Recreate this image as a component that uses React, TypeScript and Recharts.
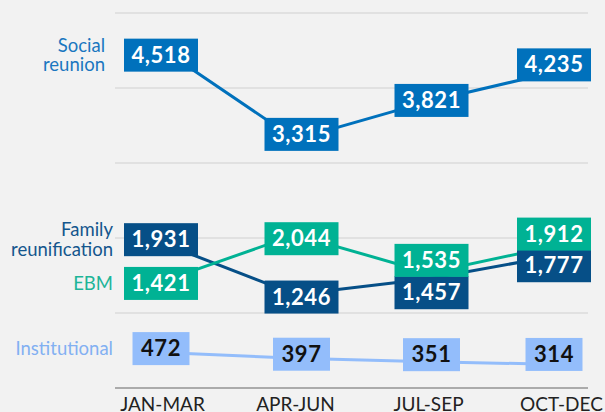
import { LineChart, Line, XAxis, YAxis, CartesianGrid } from 'recharts'

const quarters = ['JAN-MAR', 'APR-JUN', 'JUL-SEP', 'OCT-DEC']
const socialReunion = [4518, 3315, 3821, 4235]
const familyReunification = [1931, 1246, 1457, 1777]
const ebm = [1421, 2044, 1535, 1912]
const institutional = [472, 397, 351, 314]
const yTicks = [0, 1000, 2000, 3000, 4000, 5000]

const rows = quarters.map((quarter, i) => ({
  quarter,
  social: socialReunion[i],
  family: familyReunification[i],
  ebm: ebm[i],
  institutional: institutional[i],
}))

// label boxes are nudged off the points by hand, like the original
const labelDx = [-1.5, 6, 3, -7.5]

type Series = {
  key: string
  name: string[]
  color: string
  nameColor: string
  textColor: string
  nameRight: number
  labelDy: number[]
}

const series: Series[] = [
  {
    key: 'institutional',
    name: ['Institutional'],
    color: '#93bdfb',
    nameColor: '#82b0f2',
    textColor: '#111',
    nameRight: 113,
    labelDy: [-4, -4, -7, -10],
  },
  {
    key: 'family',
    name: ['Family', 'reunification'],
    color: '#064f87',
    nameColor: '#14568d',
    textColor: '#fff',
    nameRight: 113,
    labelDy: [-3.5, 2.5, 14, 11],
  },
  {
    key: 'ebm',
    name: ['EBM'],
    color: '#00b294',
    nameColor: '#1db598',
    textColor: '#fff',
    nameRight: 113,
    labelDy: [2, 4, -12.5, -10.5],
  },
  {
    key: 'social',
    name: ['Social', 'reunion'],
    color: '#0071bc',
    nameColor: '#1a77c0',
    textColor: '#fff',
    nameRight: 105,
    labelDy: [6, -5, -1, -5.5],
  },
]

function makeLabel(s: Series) {
  return (props: any) => {
    const { cx, cy, index, payload } = props
    const value = payload[s.key] as number
    const bx = cx + labelDx[index]
    const by = cy + s.labelDy[index]
    const text = value.toLocaleString('en-US')
    const w = text.length > 3 ? 74 : 57
    const h = 33
    const lineH = 19.5
    const firstBase = by + 6.5 - ((s.name.length - 1) * lineH) / 2
    return (
      <g key={`${s.key}-${index}`}>
        <rect x={bx - w / 2} y={by - h / 2} width={w} height={h} fill={s.color} />
        <text
          x={bx}
          y={by + 7.5}
          textAnchor="middle"
          fill={s.textColor}
          fontSize={22}
          fontWeight={700}
          letterSpacing={0.6}
          fontFamily="Lato, sans-serif"
        >
          {text}
        </text>
        {index === 0 &&
          s.name.map((line, j) => (
            <text
              key={j}
              x={s.nameRight}
              y={firstBase + j * lineH}
              textAnchor="end"
              fill={s.nameColor}
              fontSize={18.5}
              fontFamily="Lato, sans-serif"
            >
              {line}
            </text>
          ))}
      </g>
    )
  }
}

export default function App() {
  return (
    <div style={{ width: 605, height: 412, background: '#f2f2f2', fontFamily: 'Lato, sans-serif' }}>
      <style>{`body { margin: 0; background: #f2f2f2; }`}</style>
      <LineChart width={605} height={412} data={rows} margin={{ top: 13, right: 17, bottom: 0, left: 115 }}>
        <CartesianGrid vertical={false} stroke="#cfcfcf" strokeWidth={1.2} />
        <XAxis
          dataKey="quarter"
          axisLine={{ stroke: '#999', strokeWidth: 1.5 }}
          tickLine={false}
          tickSize={0}
          tickMargin={10}
          height={24}
          interval={0}
          padding={{ left: 47.5, right: 26.5 }}
          tick={{ fill: '#222', fontSize: 19, fontFamily: 'Lato, sans-serif' }}
        />
        <YAxis hide domain={[0, 5000]} ticks={yTicks} />
        {series.map((s) => (
          <Line
            key={s.key}
            dataKey={s.key}
            stroke={s.color}
            strokeWidth={3}
            dot={false}
            activeDot={false}
            isAnimationActive={false}
          />
        ))}
        {/* second pass so every label box sits over every line */}
        {series.map((s) => (
          <Line
            key={`${s.key}-labels`}
            dataKey={s.key}
            stroke="none"
            dot={makeLabel(s)}
            activeDot={false}
            legendType="none"
            isAnimationActive={false}
          />
        ))}
      </LineChart>
    </div>
  )
}
